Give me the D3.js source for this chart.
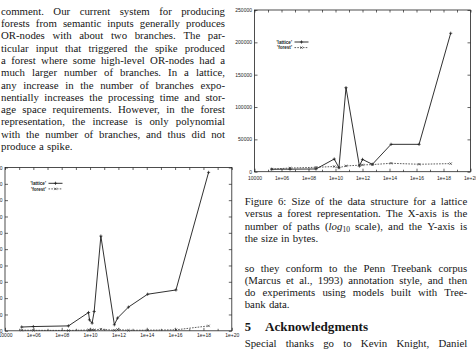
<!DOCTYPE html>
<html>
<head>
<meta charset="utf-8">
<script src="https://cdn.jsdelivr.net/npm/d3@7"></script>
<style>
  body { margin: 0; background: #fff; }
  svg { display: block; }
  .tick text { font-family: "Liberation Sans", Arial, sans-serif; fill: #222; }
  .tick line { stroke: #222; stroke-width: 0.7; }
</style>
</head>
<body>
<svg id="page" width="476" height="352"></svg>
<script>
// Left figure (bottom-left, y labels run off the page)
const leftPaths   = [1.5e5, 1e6, 3.0e8, 7.8e9, 9.1e9, 1.4e10, 1.95e10, 5.8e10, 5.2e11, 8.7e11, 5.1e12, 1.15e14, 1.15e16, 2.3e18];
const leftLattice = [23, 26, 30, 112, 67, 47, 118, 580, 37, 78, 145, 224, 250, 970];
const leftForest  = [4, 3, 2, 5, 4, 6, 5, 10, 3, 8, 3, 4, 6, 30];
const leftYTicks  = [0, 100, 200, 300, 400, 500, 600, 700, 800, 900, 1000];

// Figure 6: size of the data structure (bytes)
const sizePaths   = [1.86e5, 4.3e6, 3.6e8, 8.1e9, 1.8e10, 6.0e10, 5.9e11, 1.0e12, 5.4e12, 1.3e14, 1.55e16, 3.4e18];
const sizeLattice = [3800, 3900, 4200, 19600, 6200, 129900, 8800, 19000, 11400, 42300, 42300, 214000];
const sizeForest  = [4000, 5700, 6800, 8000, 6200, 9000, 10000, 10500, 11000, 13000, 11500, 12500];
const sizeYTicks  = [0, 50000, 100000, 150000, 200000, 250000];

const xMajor = [1e4, 1e6, 1e8, 1e10, 1e12, 1e14, 1e16, 1e18, 1e20];
const xMinor = [1e5, 1e7, 1e9, 1e11, 1e13, 1e15, 1e17, 1e19];
const seriesNames = ["'lattice'", "'forest'"];

// Texto da página
const leftText = [
  "comment. Our current system for producing",
  "forests from semantic inputs generally produces",
  "OR-nodes with about two branches. The par-",
  "ticular input that triggered the spike produced",
  "a forest where some high-level OR-nodes had a",
  "much larger number of branches. In a lattice,",
  "any increase in the number of branches expo-",
  "nentially increases the processing time and stor-",
  "age space requirements. However, in the forest",
  "representation, the increase is only polynomial",
  "with the number of branches, and thus did not",
  "produce a spike."
];
const captionText = [
  "Figure 6: Size of the data structure for a lattice",
  "versus a forest representation. The X-axis is the",
  "number of paths (log10 scale), and the Y-axis is",
  "the size in bytes."
];
const rightText = [
  "so they conform to the Penn Treebank corpus",
  "(Marcus et al., 1993) annotation style, and then",
  "do experiments using models built with Tree-",
  "bank data."
];
const thanksText = ["Special thanks go to Kevin Knight, Daniel"];

const page = d3.select("#page");
const bodyFont = "10.8px 'Liberation Serif', 'Times New Roman', serif";
const ink = "#161616";

// words with italic / subscript parts
const rich = {
  "(log10": [{ t: "(" }, { t: "log", i: true }, { t: "10", sub: true }]
};

function wordNode(g, w, y) {
  const t = g.append("text").attr("y", y).style("font", bodyFont).attr("fill", ink);
  (rich[w] || [{ t: w }]).forEach(p => {
    const s = t.append("tspan").text(p.t);
    if (p.i) s.style("font-style", "italic");
    if (p.sub) s.attr("dy", 2.2).style("font-size", "7.5px");
  });
  return t;
}

function paragraph(lines, x0, width, y0, pitch) {
  const g = page.append("g");
  lines.forEach((line, li) => {
    const y = y0 + li * pitch;
    const words = line.split(" ");
    const nodes = words.map(w => wordNode(g, w, y));
    const lens = nodes.map(n => n.node().getComputedTextLength());
    const last = li === lines.length - 1 && lines.length > 1 && line.length < 30;
    const gap = (!last && words.length > 1) ? (width - d3.sum(lens)) / (words.length - 1) : 3.2;
    let x = x0;
    nodes.forEach((n, i) => { n.attr("x", x); x += lens[i] + gap; });
  });
}

paragraph(leftText, 1, 224, 14.9, 12.27);
paragraph(captionText, 244.7, 222.5, 204.9, 12.3);
paragraph(rightText, 244.7, 222.5, 271.5, 12.3);
paragraph(thanksText, 244.7, 222.5, 346.5, 12.3);

// cabeçalho da seção
page.append("text").attr("x", 244.7).attr("y", 331)
  .style("font", "bold 12.5px 'Liberation Serif', serif").attr("fill", ink).text("5");
page.append("text").attr("x", 265).attr("y", 331)
  .style("font", "bold 12.5px 'Liberation Serif', serif").attr("fill", ink)
  .attr("textLength", 103).attr("lengthAdjust", "spacingAndGlyphs")
  .text("Acknowledgments");

// Desenhar um gráfico estilo gnuplot
function drawChart(cfg) {
  const x = d3.scaleLog().domain([1e4, 1e20]).range([cfg.x0, cfg.x1]);
  const y = d3.scaleLinear().domain([0, cfg.yMax]).range([cfg.y1, cfg.y0]);
  const g = page.append("g");
  const fmt = v => v === 1e4 ? "10000" : "1e+" + d3.format("02d")(Math.round(Math.log10(v)));

  g.append("g").attr("transform", `translate(0,${cfg.y1})`)
    .call(d3.axisBottom(x).tickValues(xMajor).tickFormat(fmt)
      .tickSizeInner(-3).tickSizeOuter(0).tickPadding(cfg.xPad));
  g.append("g").attr("transform", `translate(0,${cfg.y1})`)
    .call(d3.axisBottom(x).tickValues(xMinor).tickFormat("").tickSizeInner(-2).tickSizeOuter(0));
  g.append("g").attr("transform", `translate(0,${cfg.y0})`)
    .call(d3.axisTop(x).tickValues(xMajor.concat(xMinor)).tickFormat("").tickSizeInner(-2.5).tickSizeOuter(0));
  g.append("g").attr("transform", `translate(${cfg.x0},0)`)
    .call(d3.axisLeft(y).tickValues(cfg.yTicks).tickFormat(d3.format("d"))
      .tickSizeInner(-3).tickSizeOuter(0).tickPadding(2.5));
  g.append("g").attr("transform", `translate(${cfg.x1},0)`)
    .call(d3.axisRight(y).tickValues(cfg.yTicks).tickFormat("").tickSizeInner(-3).tickSizeOuter(0));
  g.selectAll(".domain").remove();
  g.selectAll(".tick text").style("font-size", "5px");

  g.append("rect")
    .attr("x", cfg.x0).attr("y", cfg.y0)
    .attr("width", cfg.x1 - cfg.x0).attr("height", cfg.y1 - cfg.y0)
    .attr("fill", "none").attr("stroke", "#222").attr("stroke-width", 0.8);

  const series = [
    { name: seriesNames[0], vals: cfg.lattice, dash: null, mark: "M-1.6,0H1.6M0,-1.6V1.6", color: "#1a1a1a", w: 0.9 },
    { name: seriesNames[1], vals: cfg.forest, dash: "1.6,1.2", mark: "M-1.2,-1.2L1.2,1.2M-1.2,1.2L1.2,-1.2", color: "#333", w: 0.8 }
  ];
  const line = d3.line().x(d => x(d[0])).y(d => y(d[1]));

  series.forEach((s, si) => {
    const pts = cfg.paths.map((p, i) => [p, s.vals[i]]);
    g.append("path").datum(pts)
      .attr("d", line).attr("fill", "none")
      .attr("stroke", s.color).attr("stroke-width", s.w)
      .attr("stroke-dasharray", s.dash);
    g.selectAll(null).data(pts).enter().append("path")
      .attr("transform", d => `translate(${x(d[0])},${y(d[1])})`)
      .attr("d", s.mark).attr("stroke", s.color).attr("stroke-width", 0.7);

    // legenda
    const ly = cfg.y0 + cfg.legDy + si * 5.6;
    const lx = cfg.x0 + cfg.legDx;
    g.append("text").attr("x", lx).attr("y", ly + 1.6)
      .attr("text-anchor", "end")
      .style("font", "bold 4.6px 'Liberation Sans', sans-serif").attr("fill", "#222")
      .text(s.name);
    g.append("line").attr("x1", lx + 2.5).attr("x2", lx + 16.5).attr("y1", ly).attr("y2", ly)
      .attr("stroke", s.color).attr("stroke-width", s.w).attr("stroke-dasharray", s.dash);
    g.append("path").attr("transform", `translate(${lx + 9.5},${ly})`)
      .attr("d", s.mark).attr("stroke", s.color).attr("stroke-width", 0.7);
  });
}

drawChart({
  x0: 254.5, x1: 470.5, y0: 10, y1: 171.7, yMax: 250000, yTicks: sizeYTicks, xPad: 4.5,
  paths: sizePaths, lattice: sizeLattice, forest: sizeForest, legDx: 37.5, legDy: 32
});

drawChart({
  x0: 5, x1: 231.8, y0: 167.5, y1: 330.8, yMax: 1000, yTicks: leftYTicks, xPad: 3,
  paths: leftPaths, lattice: leftLattice, forest: leftForest, legDx: 41, legDy: 15.8
});
</script>
</body>
</html>
